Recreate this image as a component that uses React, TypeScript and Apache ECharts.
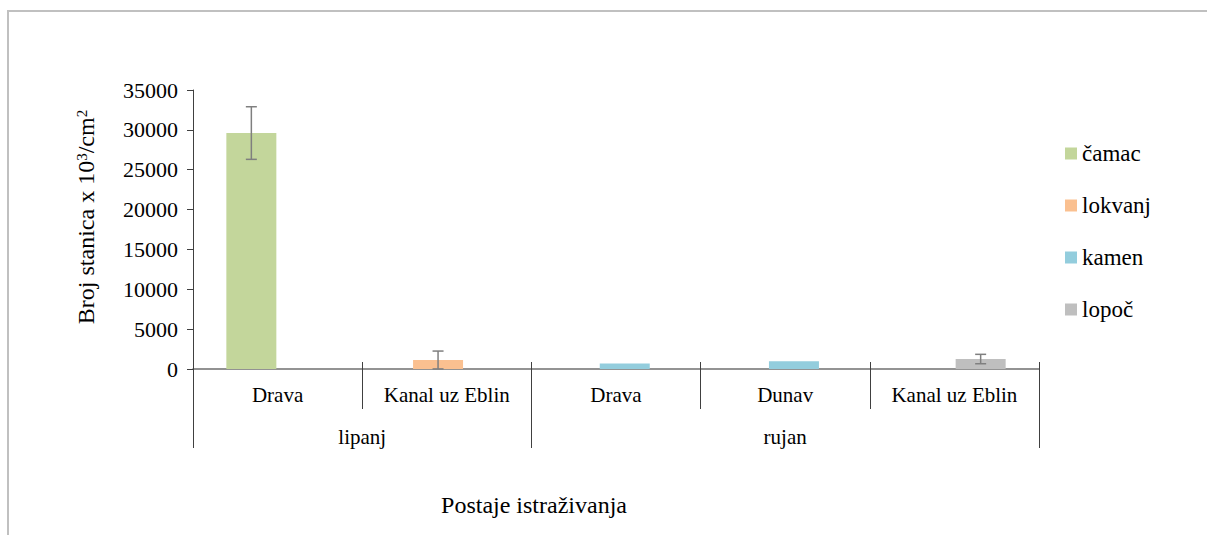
import React, { useEffect, useRef } from "react";
import * as echarts from "echarts";

const categories = ["Drava", "Kanal uz Eblin", "Drava", "Dunav", "Kanal uz Eblin"];
const groupLabels = ["lipanj", "rujan"];
const groupTickPositions = [0, 2, 5];
const groupLabelPositions = [1, 3.5];
const seriesNames = ["čamac", "lokvanj", "kamen", "lopoč"];
const camac = [29600, null, null, null, null];
const lokvanj = [null, 1130, null, null, null];
const kamen = [null, null, 700, 970, null];
const lopoc = [null, null, null, null, 1250];
const camacErr = [3300, null, null, null, null];
const lokvanjErr = [null, 1120, null, null, null];
const kamenErr = [null, null, null, null, null];
const lopocErr = [null, null, null, null, 590];
const yTicks = { min: 0, max: 35000, interval: 5000 };

const colors = ["#c3d69b", "#fac090", "#93cddd", "#bfbfbf"];
const FONT = "Liberation Serif";
const BAR_W = 50;
const BAR_GAP = -0.65;

export default function App() {
  const ref = useRef<HTMLDivElement>(null);
  useEffect(() => {
    if (!ref.current) return;
    const chart = echarts.init(ref.current, undefined, { renderer: "svg" });
    const values = [camac, lokvanj, kamen, lopoc];
    const errs = [camacErr, lokvanjErr, kamenErr, lopocErr];
    const errData: any[] = [];
    values.forEach((arr, s) => {
      arr.forEach((v, i) => {
        const e = errs[s][i];
        if (v != null && e != null) errData.push([i, v - e, v + e, s]);
      });
    });
    const step = BAR_W * (1 + BAR_GAP);
    const nS = values.length;
    const textStyle = { fontFamily: FONT, color: "#000", fontSize: 21 };
    chart.setOption({
      animation: false,
      textStyle,
      grid: { left: 193, right: 168, top: 90, bottom: 166, containLabel: false },
      legend: {
        orient: "vertical",
        left: 1060,
        top: 137,
        itemGap: 29,
        itemWidth: 12,
        itemHeight: 12,
        icon: "rect",
        data: seriesNames,
        textStyle: { fontFamily: FONT, fontSize: 23, color: "#000" },
      },
      xAxis: [
        {
          type: "category",
          data: categories,
          position: "bottom",
          axisLine: { show: true, lineStyle: { color: "#6f6f6f", width: 1.5 } },
          axisTick: { show: true, interval: 0, length: 40, lineStyle: { color: "#404040" } },
          axisLabel: { interval: 0, margin: 15, fontFamily: FONT, fontSize: 21, color: "#000" },
        },
        {
          type: "value",
          min: 0,
          max: 5,
          position: "bottom",
          axisLine: { show: false },
          splitLine: { show: false },
          axisTick: { show: true, customValues: groupTickPositions, length: 79, lineStyle: { color: "#404040" } },
          axisLabel: {
            customValues: groupLabelPositions,
            formatter: (v: number) => groupLabels[groupLabelPositions.indexOf(v)] ?? "",
            margin: 57,
            fontFamily: FONT,
            fontSize: 21,
            color: "#000",
          },
        },
        {
          type: "category",
          data: categories,
          position: "bottom",
          axisLine: { show: false },
          axisTick: { show: true, inside: true, interval: 0, length: 7, lineStyle: { color: "#404040" } },
          axisLabel: { show: false },
        },
      ],
      yAxis: {
        type: "value",
        min: yTicks.min,
        max: yTicks.max,
        interval: yTicks.interval,
        axisLine: { show: true, lineStyle: { color: "#404040" } },
        axisTick: { show: true, length: 6, lineStyle: { color: "#404040" } },
        splitLine: { show: false },
        axisLabel: {
          margin: 15,
          fontFamily: FONT,
          fontSize: 22,
          color: "#000",
          formatter: (v: number) => String(v),
        },
      },
      series: [
        ...values.map((arr, s) => ({
          type: "bar",
          name: seriesNames[s],
          data: arr,
          barWidth: BAR_W,
          barGap: `${BAR_GAP * 100}%`,
          itemStyle: { color: colors[s] },
          xAxisIndex: 0,
        })),
        {
          type: "custom",
          name: "err",
          xAxisIndex: 0,
          data: errData,
          z: 10,
          renderItem: (params: any, api: any) => {
            const idx = api.value(0);
            const lo = api.coord([idx, api.value(1)]);
            const hi = api.coord([idx, api.value(2)]);
            const s = api.value(3);
            const off = (s - (nS - 1) / 2) * step;
            const x = lo[0] + off;
            const cap = 5.5;
            const style = { stroke: "#7f7f7f", lineWidth: 1.5 };
            return {
              type: "group",
              children: [
                { type: "line", shape: { x1: x, y1: hi[1], x2: x, y2: lo[1] }, style },
                { type: "line", shape: { x1: x - cap, y1: hi[1], x2: x + cap, y2: hi[1] }, style },
                { type: "line", shape: { x1: x - cap, y1: lo[1], x2: x + cap, y2: lo[1] }, style },
              ],
            };
          },
        },
      ],
      graphic: [
        {
          type: "rect",
          silent: true,
          shape: { x: 8, y: 11, width: 1400, height: 800 },
          style: { fill: "none", stroke: "#c0c0c0", lineWidth: 2 },
        },
        {
          type: "text",
          x: 534,
          y: 505,
          style: {
            text: "Postaje istraživanja",
            fontFamily: FONT,
            fontSize: 24,
            fill: "#000",
            align: "center",
            verticalAlign: "middle",
          },
        },
        {
          type: "text",
          x: 86,
          y: 217,
          rotation: Math.PI / 2,
          style: {
            text: "Broj stanica x 10{sup|3}/cm{sup|2}",
            fontFamily: FONT,
            fontSize: 24,
            fill: "#000",
            align: "center",
            verticalAlign: "middle",
            rich: {
              sup: { fontFamily: FONT, fontSize: 15, fill: "#000", verticalAlign: "top", lineHeight: 24 },
            },
          },
        },
      ],
    });
    return () => chart.dispose();
  }, []);
  return (
    <div
      ref={ref}
      style={{ position: "absolute", left: 0, top: 0, width: 1207, height: 535, background: "#fff" }}
    />
  );
}
